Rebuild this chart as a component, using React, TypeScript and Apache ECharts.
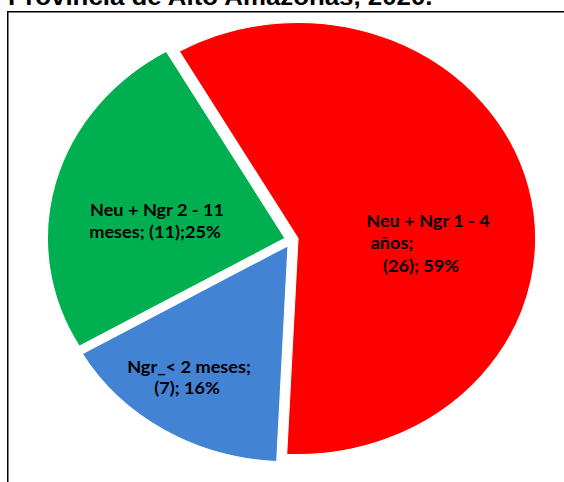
import React, { useEffect, useRef } from "react";
import * as echarts from "echarts";

// ---- data ----
const TITLE = "Provincia de Alto Amazonas, 2020.";
const CATEGORIES = ["Neu + Ngr 1 - 4 años", "Ngr_< 2 meses", "Neu + Ngr 2 - 11 meses"];
const VALUES = [26, 7, 11];
const COLORS = ["#FF0000", "#4283D3", "#00B050"];

const TOTAL = VALUES.reduce((a, b) => a + b, 0);
const pct = (v: number) => Math.round((v / TOTAL) * 100);

// label lines, built from the data
const LABEL_LINES: string[][] = [
  ["Neu + Ngr 1 - 4", "años;", `(${VALUES[0]}); ${pct(VALUES[0])}%`],
  ["Ngr_< 2 meses;", `(${VALUES[1]}); ${pct(VALUES[1])}%`],
  ["Neu + Ngr 2 - 11", `meses; (${VALUES[2]});${pct(VALUES[2])}%`],
];

// ---- layout ----
const CX = 291.5;
const CY = 240;
const R = 216;
const SX = 1.1; // horizontal stretch of the picture
const EXPLODE = 6.7;
const START_DEG = -120; // screen angle, clockwise
const LINE_POS: number[][][] = [
  [[428, 221], [392, 243], [421, 266]],
  [[189, 367], [187, 388]],
  [[157, 210], [155, 232]],
];

export default function App() {
  const ref = useRef<HTMLDivElement>(null);
  useEffect(() => {
    if (!ref.current) return;
    const chart = echarts.init(ref.current, undefined, { renderer: "svg" });
    const option: any = {
      animation: false,
      backgroundColor: "#ffffff",
      graphic: [
        {
          type: "rect",
          shape: { x: 7.75, y: 11.75, width: 620, height: 520 },
          style: { fill: "none", stroke: "#000", lineWidth: 1.5 },
          z: 1,
        },
        {
          type: "text",
          x: 8,
          y: -3.5,
          scaleX: SX,
          style: {
            text: TITLE,
            fill: "#000",
            fontFamily: "Liberation Sans",
            fontWeight: "bold",
            fontSize: 23.5,
            align: "left",
            verticalAlign: "middle",
          },
          z: 1,
        },
      ],
      series: [
        {
          type: "custom",
          coordinateSystem: "none",
          data: VALUES.map((v, i) => ({
            value: v,
            name: CATEGORIES[i],
            itemStyle: { color: COLORS[i] },
          })),
          renderItem: (params: any, api: any) => {
            const i = params.dataIndex;
            const v = api.value(0);
            const before = VALUES.slice(0, i).reduce((a, b) => a + b, 0);
            const a0 = (START_DEG * Math.PI) / 180 + (before / TOTAL) * Math.PI * 2;
            const a1 = a0 + (v / TOTAL) * Math.PI * 2;
            const mid = (a0 + a1) / 2;
            const texts = LABEL_LINES[i].map((line, k) => ({
              type: "text",
              x: LINE_POS[i][k][0],
              y: LINE_POS[i][k][1],
              scaleX: SX,
              z2: 10,
              style: {
                text: line,
                fill: "#000",
                fontFamily: "Lato",
                fontWeight: "bold",
                fontSize: 16.5,
                align: "center",
                verticalAlign: "middle",
              },
            }));
            return {
              type: "group",
              children: [
                {
                  type: "sector",
                  x: CX + EXPLODE * Math.cos(mid),
                  y: CY + EXPLODE * Math.sin(mid),
                  scaleX: SX,
                  shape: { cx: 0, cy: 0, r0: 0, r: R, startAngle: a0, endAngle: a1, clockwise: true },
                  style: { fill: api.visual("color"), stroke: "#ffffff", lineWidth: 1 },
                },
                ...texts,
              ],
            };
          },
        },
      ],
    };
    chart.setOption(option);
    return () => chart.dispose();
  }, []);
  return (
    <div
      ref={ref}
      style={{ position: "fixed", left: 0, top: 0, width: 564, height: 482 }}
    />
  );
}
